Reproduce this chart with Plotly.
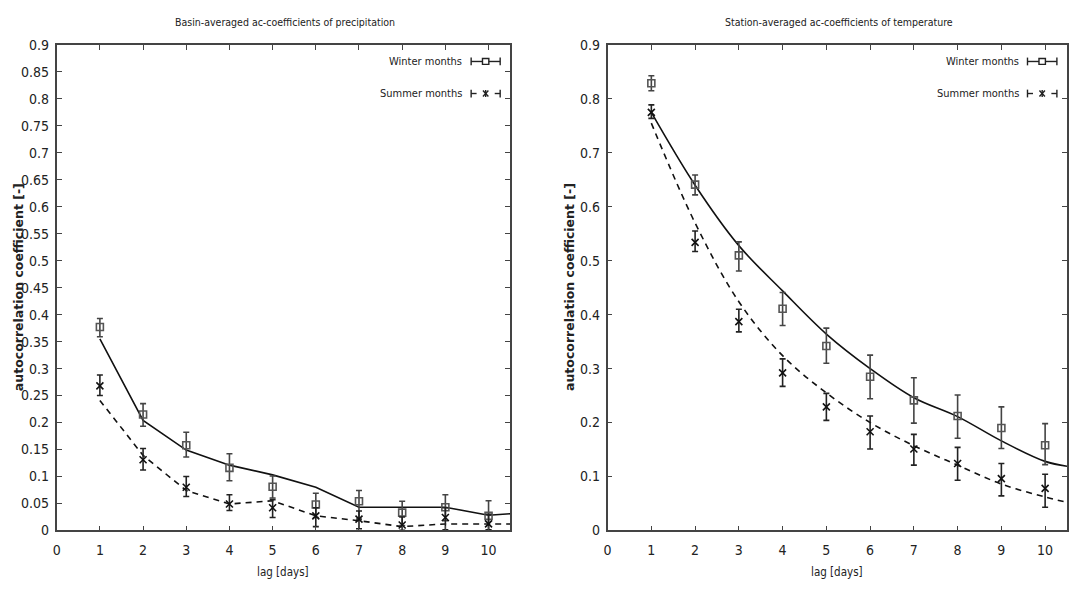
import plotly.graph_objects as go

lags = [1, 2, 3, 4, 5, 6, 7, 8, 9, 10]
fit_lags = [1, 2, 3, 4, 5, 6, 7, 8, 9, 10, 10.5]

# precipitation (left panel)
p_win = [0.377, 0.215, 0.158, 0.116, 0.081, 0.048, 0.054, 0.033, 0.043, 0.027]
p_win_hi = [0.393, 0.235, 0.182, 0.142, 0.101, 0.069, 0.074, 0.054, 0.066, 0.055]
p_win_lo = [0.359, 0.193, 0.136, 0.092, 0.060, 0.024, 0.021, 0.009, 0.018, 0.000]
p_win_fit = [0.355, 0.204, 0.149, 0.121, 0.103, 0.080, 0.043, 0.043, 0.043, 0.028, 0.031]
p_sum = [0.268, 0.131, 0.080, 0.049, 0.042, 0.027, 0.021, 0.010, 0.024, 0.012]
p_sum_hi = [0.288, 0.152, 0.100, 0.066, 0.057, 0.042, 0.036, 0.025, 0.042, 0.030]
p_sum_lo = [0.250, 0.112, 0.063, 0.037, 0.024, 0.007, 0.003, 0.000, 0.001, 0.001]
p_sum_fit = [0.241, 0.139, 0.074, 0.049, 0.055, 0.027, 0.018, 0.007, 0.012, 0.012, 0.012]

# temperature (right panel)
t_win = [0.829, 0.641, 0.510, 0.411, 0.342, 0.285, 0.241, 0.212, 0.190, 0.158]
t_win_hi = [0.843, 0.659, 0.535, 0.441, 0.375, 0.325, 0.283, 0.251, 0.229, 0.198]
t_win_lo = [0.815, 0.622, 0.481, 0.380, 0.310, 0.244, 0.199, 0.171, 0.152, 0.122]
t_win_fit = [0.775, 0.640, 0.528, 0.444, 0.364, 0.300, 0.246, 0.211, 0.166, 0.128, 0.119]
t_sum = [0.775, 0.534, 0.387, 0.292, 0.229, 0.183, 0.151, 0.124, 0.096, 0.078]
t_sum_hi = [0.789, 0.555, 0.410, 0.318, 0.254, 0.212, 0.178, 0.154, 0.124, 0.104]
t_sum_lo = [0.764, 0.517, 0.368, 0.267, 0.204, 0.151, 0.121, 0.093, 0.064, 0.043]
t_sum_fit = [0.755, 0.570, 0.424, 0.324, 0.255, 0.200, 0.157, 0.121, 0.086, 0.062, 0.052]

titles = ["Basin-averaged ac-coefficients of precipitation",
          "Station-averaged ac-coefficients of temperature"]
x_title = "lag [days]"
y_title = "autocorrelation coefficient [-]"
legend_names = ["Winter months", "Summer months"]

NARROW = "Liberation Sans Narrow, Arial Narrow, DejaVu Sans Condensed, sans-serif"
BOLD = "DejaVu Sans, Verdana, sans-serif"

fig = go.Figure()


def add_panel(xa, ya, win, whi, wlo, wfit, sm, shi, slo, sfit, shape):
    def err(y, hi, lo, col):
        return dict(type="data", symmetric=False,
                    array=[h - v for h, v in zip(hi, y)],
                    arrayminus=[v - l for v, l in zip(y, lo)],
                    color=col, thickness=1.6, width=3)
    fig.add_trace(go.Scatter(x=fit_lags, y=wfit, mode="lines", xaxis=xa, yaxis=ya,
                             line=dict(color="#111", width=1.6, shape=shape),
                             showlegend=False))
    fig.add_trace(go.Scatter(x=fit_lags, y=sfit, mode="lines", xaxis=xa, yaxis=ya,
                             line=dict(color="#111", width=1.6, dash="6px,5px", shape=shape),
                             showlegend=False))
    fig.add_trace(go.Scatter(x=lags, y=win, mode="markers", xaxis=xa, yaxis=ya,
                             marker=dict(symbol="square-open", size=7, color="#555",
                                         line=dict(width=1.6, color="#555")),
                             error_y=err(win, whi, wlo, "#444"), showlegend=False))
    fig.add_trace(go.Scatter(x=lags, y=sm, mode="markers", xaxis=xa, yaxis=ya,
                             marker=dict(symbol="x-thin-open", size=7, color="#111",
                                         line=dict(width=1.6, color="#111")),
                             error_y=err(sm, shi, slo, "#222"), showlegend=False))


add_panel("x", "y", p_win, p_win_hi, p_win_lo, p_win_fit,
          p_sum, p_sum_hi, p_sum_lo, p_sum_fit, "linear")
add_panel("x2", "y2", t_win, t_win_hi, t_win_lo, t_win_fit,
          t_sum, t_sum_hi, t_sum_lo, t_sum_fit, "spline")

W, H = 1069, 589
ydom = [1 - 537 / H, 1 - 38 / H]

axis_common = dict(showline=True, mirror="ticks", linecolor="#444", linewidth=1.6,
                   ticks="inside", ticklen=5, tickwidth=1.4, tickcolor="#444",
                   showgrid=False, zeroline=False,
                   tickfont=dict(family=NARROW, size=14, color="#222"))

fig.update_layout(
    width=W, height=H, margin=dict(l=0, r=0, t=0, b=0),
    paper_bgcolor="white", plot_bgcolor="white",
    xaxis=dict(domain=[53 / W, 509 / W], range=[0, 10.5], tickvals=list(range(0, 11)),
               anchor="y", ticklabelstandoff=6, **axis_common),
    yaxis=dict(domain=ydom, range=[0, 0.9], tickvals=[i * 0.05 for i in range(19)],
               ticktext=["0"] + ["%g" % round(i * 0.05, 2) for i in range(1, 19)],
               anchor="x", ticklabelstandoff=3, **axis_common),
    xaxis2=dict(domain=[607 / W, 1.0], range=[0, 10.5], tickvals=list(range(0, 11)),
                anchor="y2", ticklabelstandoff=6, **axis_common),
    yaxis2=dict(domain=ydom, range=[0, 0.9], tickvals=[i * 0.1 for i in range(10)],
                ticktext=["0"] + ["%g" % round(i * 0.1, 1) for i in range(1, 10)],
                anchor="x2", ticklabelstandoff=3, **axis_common),
)

ann = []
for cx, t in zip([283 / W, 840 / W], titles):
    ann.append(dict(x=cx, y=1 - 14 / H, xref="paper", yref="paper", text=t,
                    xanchor="center", yanchor="middle",
                    showarrow=False, font=dict(family=NARROW, size=10.5, color="#222")))
for cx in [281 / W, 838 / W]:
    ann.append(dict(x=cx, y=1 - 580 / H, xref="paper", yref="paper", text=x_title,
                    xanchor="center", yanchor="middle",
                    showarrow=False, font=dict(family=NARROW, size=11.5, color="#222")))
for cx in [14 / W, 568 / W]:
    ann.append(dict(x=cx, y=1 - 287 / H, xref="paper", yref="paper", text=y_title,
                    xanchor="center", yanchor="middle",
                    textangle=-90, showarrow=False,
                    font=dict(family=BOLD, size=12.5, color="#222", weight="bold")))

shapes = []
for sx, sy in [("x domain", "y domain"), ("x2 domain", "y2 domain")]:
    for i, name in enumerate(legend_names):
        yy = 0.966 - i * 0.066
        ann.append(dict(x=0.899, y=yy, xref=sx, yref=sy, text=name, xanchor="right",
                        yanchor="middle",
                        showarrow=False, font=dict(family=NARROW, size=11, color="#222")))
        x0, x1 = 0.914, 0.978
        xc = (x0 + x1) / 2
        ln = dict(color="#222", width=1.4)
        if i == 0:
            shapes.append(dict(type="line", xref=sx, yref=sy, x0=x0, x1=x1, y0=yy, y1=yy,
                               line=ln))
        else:
            shapes.append(dict(type="line", xref=sx, yref=sy, x0=x0, x1=x0 + 0.012,
                               y0=yy, y1=yy, line=ln))
            shapes.append(dict(type="line", xref=sx, yref=sy, x0=x1 - 0.012, x1=x1,
                               y0=yy, y1=yy, line=ln))
        for xe in (x0, x1):
            shapes.append(dict(type="line", xref=sx, yref=sy, x0=xe, x1=xe,
                               y0=yy - 0.008, y1=yy + 0.008, line=ln))
        if i == 0:
            shapes.append(dict(type="rect", xref=sx, yref=sy, x0=xc - 0.007, x1=xc + 0.007,
                               y0=yy - 0.006, y1=yy + 0.006, fillcolor="white",
                               line=dict(color="#222", width=1.4)))
        else:
            dx, dy = 0.006, 0.006
            shapes.append(dict(type="line", xref=sx, yref=sy, x0=xc - dx, x1=xc + dx,
                               y0=yy - dy, y1=yy + dy, line=ln))
            shapes.append(dict(type="line", xref=sx, yref=sy, x0=xc - dx, x1=xc + dx,
                               y0=yy + dy, y1=yy - dy, line=ln))
            shapes.append(dict(type="line", xref=sx, yref=sy, x0=xc, x1=xc,
                               y0=yy - dy * 1.2, y1=yy + dy * 1.2, line=ln))

fig.update_layout(annotations=ann, shapes=shapes)

fig.write_html("out.html")
